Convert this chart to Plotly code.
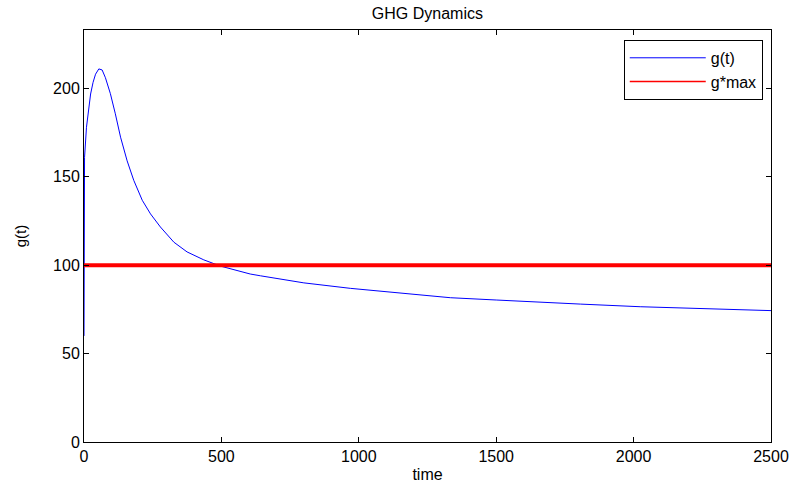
import plotly.graph_objects as go

# g(t)
t_vals = [0, 2, 9, 17.5, 24, 33, 42, 54, 66, 78, 96, 114, 133, 157, 181, 212, 242, 278,
          327, 375, 436, 496, 605, 642, 800, 969, 1150, 1296, 1333, 1500, 1660, 1806,
          2024, 2250, 2500]
g_vals = [60, 161, 178, 187.4, 196.8, 203.4, 208, 211, 210.4, 206, 197, 185.6, 172.4, 159, 148,
          136.7, 129, 121.6, 113, 107.5, 103, 99.5, 95, 94, 90, 86.9, 84.3, 82.2, 81.6, 80.3,
          79, 78, 76.5, 75.3, 74.3]

# g*max threshold
gmax_t = [0, 2500]
gmax_vals = [100, 100]

x_ticks = [0, 500, 1000, 1500, 2000, 2500]
y_ticks = [0, 50, 100, 150, 200]

FONT = "Liberation Sans, Arial, sans-serif"

fig = go.Figure()
fig.add_trace(go.Scatter(x=t_vals, y=g_vals, mode="lines", name="g(t)",
                         line=dict(color="#0000ff", width=1)))
fig.add_trace(go.Scatter(x=gmax_t, y=gmax_vals, mode="lines", name="g*max",
                         showlegend=False, line=dict(color="#ff0000", width=4)))
# legend-only entry with a thin red sample (single point: draws nothing in the plot)
fig.add_trace(go.Scatter(x=gmax_t[:1], y=gmax_vals[:1], mode="lines", name="g*max",
                         line=dict(color="#ff0000", width=1.5)))

axis_common = dict(showline=True, linecolor="black", linewidth=1, mirror="ticks",
                   ticks="inside", ticklen=5, tickcolor="black", showgrid=False,
                   zeroline=False, automargin=False,
                   tickfont=dict(family=FONT, size=16, color="black"))

fig.update_layout(
    width=793, height=488,
    margin=dict(l=84, r=22, t=30, b=46),
    paper_bgcolor="white", plot_bgcolor="white",
    title=dict(text="GHG Dynamics", x=0.539, xanchor="center", y=0.973, yanchor="middle",
               font=dict(family=FONT, size=16, color="black")),
    xaxis=dict(range=[0, 2500], tickvals=x_ticks, ticktext=[str(v) for v in x_ticks],
               title=dict(text="time", font=dict(family=FONT, size=16, color="black"), standoff=4),
               **axis_common),
    yaxis=dict(range=[0, 233], tickvals=y_ticks, ticktext=[str(v) for v in y_ticks],
               title=dict(text="g(t)", font=dict(family=FONT, size=15, color="black"), standoff=22),
               **axis_common),
    legend=dict(x=0.988, xanchor="right", y=0.976, yanchor="top",
                bordercolor="black", borderwidth=1, bgcolor="white",
                font=dict(family=FONT, size=16, color="black"),
                itemwidth=76, tracegroupgap=0),
    showlegend=True,
)

fig.write_html("out.html")
